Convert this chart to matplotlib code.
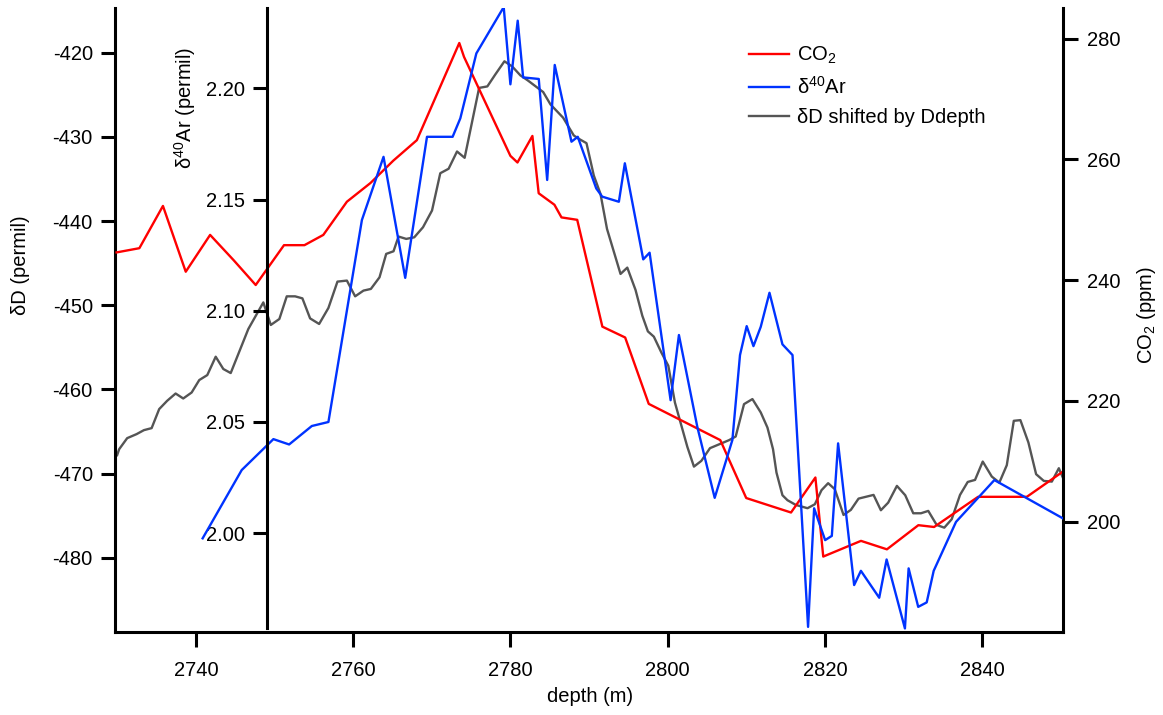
import numpy as np
import matplotlib
matplotlib.use("Agg")
import matplotlib.pyplot as plt

plt.rcParams['font.family'] = ['Liberation Sans', 'DejaVu Sans']
plt.rcParams['mathtext.fontset'] = 'custom'
plt.rcParams['mathtext.rm'] = 'Liberation Sans'
plt.rcParams['mathtext.it'] = 'Liberation Sans'
plt.rcParams['axes.unicode_minus'] = False

# CO2 record (ppm) vs depth
co2_depth = [2729.9, 2732.8, 2735.8, 2738.7, 2741.8, 2744.8, 2747.6, 2751.2, 2753.8, 2756.2,
             2759.2, 2762.2, 2765.1, 2768.1, 2773.5, 2774.1, 2780.0, 2780.9, 2782.8, 2783.6,
             2785.6, 2786.5, 2788.5, 2791.7, 2794.6, 2797.6, 2806.7, 2810.0, 2815.7, 2818.8,
             2819.8, 2824.6, 2827.9, 2831.9, 2833.9, 2839.5, 2845.7, 2850.2]
co2 = [244.6, 245.3, 252.3, 241.4, 247.5, 243.3, 239.2, 245.8, 245.8, 247.5,
       253.0, 256.1, 259.8, 263.2, 279.3, 277.0, 260.6, 259.5, 263.9, 254.4,
       252.5, 250.4, 250.0, 232.3, 230.5, 219.5, 213.5, 203.9, 201.5, 207.3,
       194.2, 196.8, 195.4, 199.4, 199.1, 204.1, 204.1, 208.2]

# d40Ar (permil) vs depth
ar_depth = [2740.85, 2745.82, 2749.85, 2751.85, 2754.74, 2756.85, 2761.11, 2763.86, 2766.62, 2769.39,
            2772.65, 2773.63, 2775.67, 2779.15, 2780.0, 2780.93, 2781.62, 2783.61, 2784.68, 2785.64,
            2787.77, 2788.57, 2790.92, 2791.68, 2793.80, 2794.56, 2796.90, 2797.71, 2800.38, 2801.44,
            2803.78, 2805.99, 2808.24, 2809.21, 2810.06, 2810.92, 2811.85, 2812.96, 2814.61, 2815.89,
            2817.87, 2818.64, 2820.04, 2820.89, 2821.69, 2823.73, 2824.59, 2826.92, 2827.86, 2830.19,
            2830.66, 2831.88, 2832.96, 2833.85, 2836.69, 2841.57, 2850.28]
ar = [1.9977, 2.0284, 2.0423, 2.0399, 2.0482, 2.0500, 2.1408, 2.1692, 2.1148, 2.1782,
      2.1782, 2.1865, 2.2157, 2.2365, 2.2018, 2.2304, 2.2049, 2.2042, 2.1588, 2.2105,
      2.1760, 2.1782, 2.1550, 2.1513, 2.1490, 2.1663, 2.1231, 2.1261, 2.0598, 2.0891,
      2.0478, 2.0159, 2.0419, 2.0801, 2.0931, 2.0841, 2.0928, 2.1081, 2.0849, 2.0801,
      1.9579, 2.0112, 1.9969, 1.9988, 2.0404, 1.9767, 1.9831, 1.9710, 1.9882, 1.9572,
      1.9842, 1.9669, 1.9689, 1.9831, 2.0051, 2.0239, 2.0067]

# dD (permil) shifted by Ddepth
dd_depth = [2729.97, 2730.23, 2731.25, 2732.45, 2733.38, 2734.36, 2735.32, 2736.34, 2737.41, 2738.38,
            2739.45, 2740.42, 2741.44, 2742.51, 2743.48, 2744.42, 2746.66, 2748.57, 2749.52, 2750.61,
            2751.55, 2752.61, 2753.54, 2754.52, 2755.67, 2756.85, 2758.0, 2759.20, 2760.25, 2761.31,
            2762.25, 2763.35, 2764.20, 2765.13, 2765.77, 2766.75, 2767.77, 2768.88, 2770.03, 2771.08,
            2772.14, 2773.21, 2774.18, 2776.02, 2777.07, 2778.09, 2779.24, 2780.22, 2781.27, 2782.20,
            2784.17, 2785.10, 2786.71, 2788.06, 2788.70, 2789.68, 2790.61, 2791.46, 2792.29, 2794.01,
            2794.87, 2795.92, 2796.78, 2797.49, 2798.25, 2799.20, 2800.09, 2800.93, 2802.51, 2803.35,
            2804.29, 2805.39, 2807.81, 2808.66, 2809.72, 2810.79, 2811.85, 2812.70, 2813.41, 2813.85,
            2814.61, 2815.25, 2816.31, 2817.80, 2818.73, 2819.58, 2820.42, 2821.27, 2822.38, 2823.31,
            2824.29, 2826.20, 2827.13, 2828.06, 2829.17, 2830.23, 2831.25, 2832.23, 2833.16, 2834.23,
            2835.20, 2836.14, 2837.20, 2838.18, 2839.11, 2840.09, 2841.24, 2842.20, 2843.15, 2844.04,
            2844.88, 2845.90, 2846.88, 2847.86, 2848.88, 2849.77, 2850.28]
dd = [-467.80, -467.09, -465.78, -465.30, -464.83, -464.59, -462.33, -461.34, -460.48, -461.07,
      -460.36, -458.88, -458.29, -456.11, -457.57, -458.05, -452.82, -449.66, -452.34, -451.63,
      -448.94, -448.94, -449.18, -451.56, -452.22, -450.32, -447.19, -447.07, -448.94, -448.26,
      -448.06, -446.68, -443.90, -443.59, -441.84, -442.12, -441.93, -440.74, -438.75, -434.32,
      -433.79, -431.74, -432.49, -424.19, -424.01, -422.58, -421.03, -421.63, -422.70, -423.29,
      -424.68, -426.15, -427.73, -429.83, -430.23, -430.75, -434.59, -436.77, -440.93, -446.28,
      -445.53, -448.18, -451.24, -453.10, -453.73, -455.60, -457.18, -461.55, -466.81, -469.16,
      -468.48, -466.97, -466.02, -465.59, -461.74, -461.14, -462.73, -464.52, -467.09, -469.87,
      -472.56, -473.15, -473.71, -474.10, -473.63, -471.96, -471.13, -471.84, -474.90, -474.30,
      -472.96, -472.52, -474.34, -473.44, -471.45, -472.56, -474.70, -474.70, -474.42, -476.09,
      -476.41, -475.41, -472.52, -470.98, -470.74, -468.56, -470.34, -471.06, -468.99, -463.72,
      -463.64, -466.30, -470.06, -470.86, -470.94, -469.35, -470.46]

W, H = 1163, 715
fs = 14.5
spw = 2.2

fig = plt.figure(figsize=(W / 100, H / 100), dpi=100)
ax = fig.add_axes([115 / W, 1 - 632 / H, 948 / W, 624 / H])
ax_co2 = ax.twinx()
ax_ar = ax.twinx()

# dD on the main (left) axis
l_dd, = ax.plot(dd_depth, dd, color='#555555', lw=1.7)
ax.set_xlim(2729.7, 2850.3)
ax.set_ylim(-488.8, -414.7)
ax.set_xticks(np.arange(2740, 2841, 20))
ax.set_yticks(np.arange(-480, -419, 10))
for s in ['top', 'right']:
    ax.spines[s].set_visible(False)

# CO2 on the right axis
l_co2, = ax_co2.plot(co2_depth, co2, color='#ff0000', lw=1.7)
ax_co2.set_ylim(181.7, 285.1)
ax_co2.set_yticks(np.arange(200, 281, 20))
for s in ['top', 'left', 'bottom']:
    ax_co2.spines[s].set_visible(False)

# d40Ar on a free axis inside the plot
l_ar, = ax_ar.plot(ar_depth, ar, color='#0033ff', lw=1.7)
ax_ar.set_ylim(1.9556, 2.2361)
ax_ar.set_yticks([2.00, 2.05, 2.10, 2.15, 2.20])
ax_ar.set_yticklabels(['%.2f' % v for v in [2.00, 2.05, 2.10, 2.15, 2.20]])
ax_ar.yaxis.set_ticks_position('left')
ax_ar.spines['left'].set_position(('axes', (267 - 115) / 948))
ax_ar.spines['left'].set_bounds(1.9573, 2.2361)
for s in ['top', 'right', 'bottom']:
    ax_ar.spines[s].set_visible(False)

for a in [ax, ax_co2, ax_ar]:
    for s in a.spines.values():
        s.set_linewidth(spw)
    a.tick_params(direction='out', length=10, width=spw, labelsize=fs, pad=6)
ax_co2.tick_params(length=11)
ax.tick_params(axis='x', length=11, pad=10)

# axis labels
fig.text(21 / W, 1 - 265 / H, 'δD (permil)', rotation=90, ha='center', va='center', fontsize=fs)
fig.text(185 / W, 1 - 108 / H, 'δ$^{40}$Ar (permil)', rotation=90, ha='center', va='center', fontsize=fs)
fig.text(1147 / W, 1 - 315 / H, 'CO$_2$ (ppm)', rotation=90, ha='center', va='center', fontsize=fs)
fig.text(590 / W, 1 - 697 / H, 'depth (m)', ha='center', va='center', fontsize=fs)

leg = fig.legend([l_co2, l_ar, l_dd], ['CO$_2$', 'δ$^{40}$Ar', 'δD shifted by Ddepth'],
                 loc='upper left', bbox_to_anchor=(749 / W, 1 - 45 / H), frameon=False,
                 fontsize=fs, handlelength=2.0, handletextpad=0.4, borderpad=0,
                 borderaxespad=0, labelspacing=0.5)

fig.savefig('out.png', dpi=100)
